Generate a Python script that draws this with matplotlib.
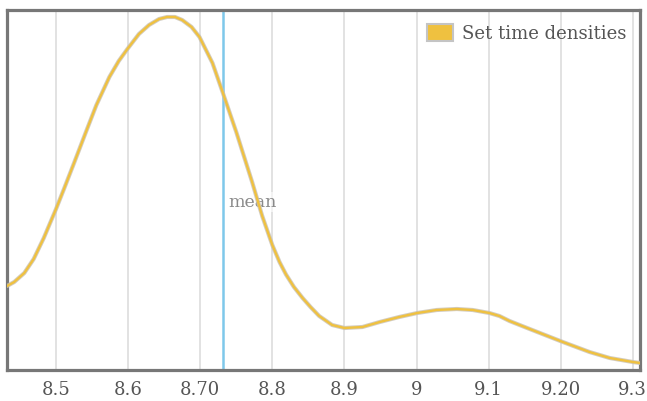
import matplotlib
matplotlib.use("Agg")
import matplotlib.pyplot as plt
import matplotlib.patheffects as pe
from matplotlib.patches import Patch
from matplotlib.ticker import FixedLocator

# density curve
set_time = [8.432, 8.442, 8.456, 8.469, 8.483, 8.500, 8.511, 8.525, 8.542, 8.556,
            8.574, 8.587, 8.599, 8.615, 8.629, 8.643, 8.654, 8.665, 8.675, 8.688,
            8.699, 8.717, 8.731, 8.750, 8.772, 8.786, 8.800, 8.810, 8.819, 8.830,
            8.842, 8.853, 8.865, 8.883, 8.900, 8.925, 8.949, 8.976, 9.001, 9.028,
            9.056, 9.078, 9.101, 9.115, 9.129, 9.157, 9.203, 9.240, 9.268, 9.300,
            9.310]
density = [0.84, 0.88, 0.97, 1.11, 1.32, 1.61, 1.81, 2.07, 2.39, 2.65,
           2.93, 3.09, 3.21, 3.36, 3.45, 3.51, 3.53, 3.53, 3.50, 3.43,
           3.33, 3.07, 2.78, 2.38, 1.88, 1.54, 1.25, 1.08, 0.955, 0.83,
           0.72, 0.63, 0.54, 0.45, 0.42, 0.43, 0.48, 0.53, 0.57, 0.60,
           0.61, 0.60, 0.57, 0.54, 0.49, 0.41, 0.28, 0.18, 0.12, 0.08,
           0.07]
mean_time = 8.731
tick_pos = [8.5, 8.6, 8.7, 8.8, 8.9, 9.0, 9.1, 9.2, 9.3]
tick_labels = ["8.5", "8.6", "8.70", "8.8", "8.9", "9", "9.1", "9.20", "9.3"]

yellow = "#EFC140"
plt.rcParams["font.family"] = "DejaVu Serif"

fig = plt.figure(figsize=(6.47, 4.02), dpi=100)
ax = fig.add_axes([7/647, 1-371/402, 633/647, 360/402])

for t in tick_pos:
    ax.axvline(t, color="#dddddd", lw=1.2, zorder=1)

ax.axvline(mean_time, color="#7ec8ea", lw=1.8, zorder=2)
ax.text(mean_time + 0.008, 1.68, "mean", fontsize=12.5, color="#8a8a8a",
        ha="left", va="center", zorder=2,
        bbox=dict(facecolor="white", edgecolor="none", alpha=0.6, pad=1))

ax.plot(set_time, density, color=yellow, lw=1.7, zorder=3,
        solid_capstyle="round", solid_joinstyle="round",
        path_effects=[pe.Stroke(linewidth=3.0, foreground="#c8c0b0", alpha=0.8),
                      pe.Normal()])

ax.set_xlim(8.432, 9.31)
ax.set_ylim(0, 3.60)
ax.xaxis.set_major_locator(FixedLocator(tick_pos))
ax.set_xticklabels(tick_labels)
ax.set_yticks([])
ax.tick_params(axis="x", length=0, pad=7, labelsize=13, labelcolor="#555555")
for s in ax.spines.values():
    s.set_color("#777777")
    s.set_linewidth(2.3)

handle = Patch(facecolor=yellow, edgecolor="#c4c4c4", linewidth=1.5)
ax.legend([handle], ["Set time densities"], loc="upper right", frameon=False,
          fontsize=13, handlelength=1.45, handleheight=1.1, handletextpad=0.5,
          borderaxespad=0.35, labelcolor="#555555")

fig.savefig("out.png", dpi=100)
